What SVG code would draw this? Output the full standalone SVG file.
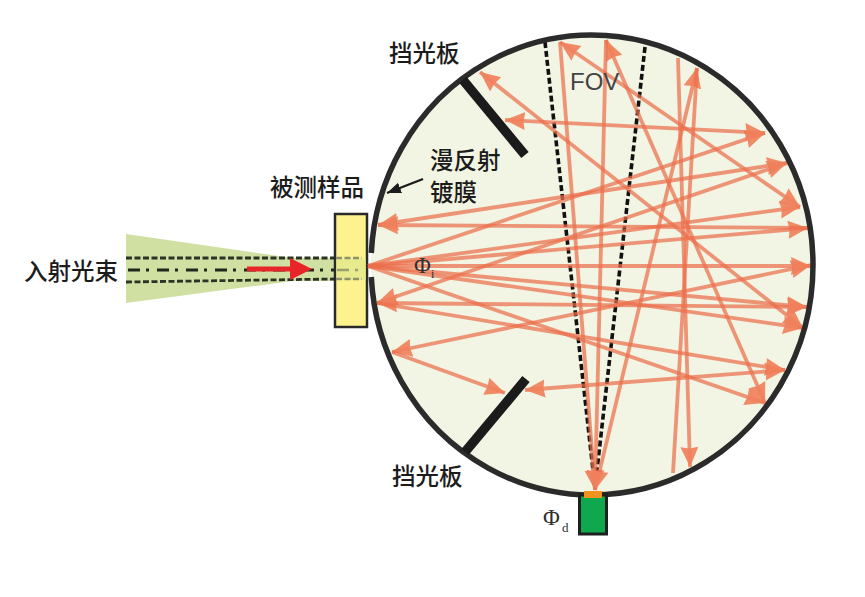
<svg xmlns="http://www.w3.org/2000/svg" width="865" height="597" viewBox="0 0 865 597">
<style>
.cjk{font-family:"Noto Sans CJK SC","Noto Sans",sans-serif;font-size:23.5px;font-weight:500;fill:#1c1c1c}
.phi{font-family:"Liberation Serif",serif;fill:#2f2f2f}
.ray{stroke:#ec6f4c;stroke-opacity:.72;stroke-width:3.8;fill:none}
.both{marker-start:url(#head);marker-end:url(#head)}
.end{marker-end:url(#head)}
.start{marker-start:url(#head)}
.fov{stroke:#111;stroke-width:3.6;stroke-dasharray:6 3;fill:none}
.baffle{stroke:#1b1b1b;stroke-width:9.500;fill:none}
.beamdash{stroke:#2b3325;stroke-width:2.8;stroke-dasharray:6 2.5;fill:none}
</style>
<defs>
<marker id="head" markerUnits="userSpaceOnUse" markerWidth="24" markerHeight="22" refX="20" refY="11" orient="auto-start-reverse" viewBox="0 0 24 22">
<path d="M0,2 L20,11 L0,20 L1.500,11 Z" fill="#f0805c" fill-opacity=".92"/>
</marker>
<marker id="blk" markerUnits="userSpaceOnUse" markerWidth="16" markerHeight="14" refX="14" refY="7" orient="auto" viewBox="0 0 16 14">
<path d="M0,1.500 L14,7 L0,12.500 Z" fill="#1c1c1c"/>
</marker>
</defs>
<rect width="865" height="597" fill="#ffffff"/>
<g id="beam">
<polygon points="126,234 293,258 335,258 335,281 293,281 126,303" fill="#cfe0a2"/>
<path class="beamdash" d="M126,258 H335"/>
<path class="beamdash" d="M126,282 L335,279"/>
<path d="M128,270 H335" fill="none" stroke="#20261b" stroke-width="2.8" stroke-dasharray="12 6 3 8"/>
</g>
<g id="sphere">
<ellipse cx="592" cy="265" rx="221" ry="230" fill="#f2f5e3"/>
</g>
<g id="sample">
<rect x="335" y="214" width="32" height="113" fill="#fdf28e" stroke="#2a2a2a" stroke-width="2.5"/>
<rect x="336.500" y="259" width="29" height="21" fill="#e8ea8e"/>
<path d="M336,258 H362 M336,279 H362" fill="none" stroke="#8d9268" stroke-width="2.4" stroke-dasharray="6 2.5"/>
<path d="M337,270 H362" fill="none" stroke="#9aa06c" stroke-width="2.6" stroke-dasharray="12 6 3 8"/>
</g>
<g id="incident-arrow">
<path d="M247,269 H292" stroke="#e8262a" stroke-width="5" fill="none"/>
<polygon points="290,258 312,269 290,280" fill="#e8262a"/>
</g>
<g id="connectors">
<path class="fov" d="M545,42 L595,488"/>
<path class="fov" d="M645,47 L595,488"/>
<path class="ray end" d="M368,266 L765,133"/>
<path class="ray end" d="M368,266 L800,207"/>
<path class="ray end" d="M368,266 L808,228"/>
<path class="ray end" d="M368,266 L811,266"/>
<path class="ray end" d="M368,266 L807,307"/>
<path class="ray end" d="M368,266 L803,328"/>
<path class="ray end" d="M368,266 L765,403"/>
<path class="ray both" d="M378,225 L787,163"/>
<path class="ray start" d="M378,225 L808,228"/>
<path class="ray both" d="M377,303 L787,163"/>
<path class="ray both" d="M377,303 L807,307"/>
<path class="ray end" d="M377,303 L785,370"/>
<path class="ray both" d="M392,352 L811,265"/>
<path class="ray end" d="M392,352 L505,393"/>
<path class="ray both" d="M525,390 L785,370"/>
<path class="ray both" d="M480,72 L803,328"/>
<path class="ray both" d="M560,42 L800,207"/>
<path class="ray both" d="M606,40 L765,403"/>
<path class="ray both" d="M505,120 L765,133"/>
<path class="ray end" d="M560,42 L595,490"/>
<path class="ray end" d="M606,40 L595,490"/>
<path class="ray both" d="M697,68 L595,490"/>
<path class="ray end" d="M678,58 L690,467"/>
<path class="ray" d="M697,68 L673,473"/>
<path d="M423,179 L387,193" fill="none" stroke="#1c1c1c" stroke-width="2.4" marker-end="url(#blk)"/>
</g>
<g id="wall">
<path d="M371.300,253 A221,230 0 1 1 371.300,277" fill="none" stroke="#2b2b2b" stroke-width="5.500"/>
</g>
<g id="baffle-top"><path class="baffle" d="M463,80 L525,155"/></g>
<g id="baffle-bottom"><path class="baffle" d="M465,452 L526,379"/></g>
<g id="detector">
<rect x="579.500" y="495" width="27" height="39" fill="#0fa84f" stroke="#1f1f1f" stroke-width="3"/>
<rect x="584" y="491" width="18" height="7" fill="#f0921e"/>
</g>
<g id="labels">
<text class="cjk" x="389" y="62">挡光板</text>
<text class="cjk" x="392" y="485">挡光板</text>
<text class="cjk" x="430" y="169">漫反射</text>
<text class="cjk" x="430" y="201">镀膜</text>
<text class="cjk" x="270" y="196">被测样品</text>
<text class="cjk" x="24" y="280">入射光束</text>
<text x="570" y="90" font-family="Liberation Sans, sans-serif" font-size="24" fill="#444">FOV</text>
<text class="phi" x="414" y="273" font-size="23">Φ</text>
<text class="phi" x="431" y="278" font-size="12">i</text>
<text class="phi" x="543" y="525" font-size="23">Φ</text>
<text class="phi" x="562" y="532" font-size="13">d</text>
</g>
</svg>
